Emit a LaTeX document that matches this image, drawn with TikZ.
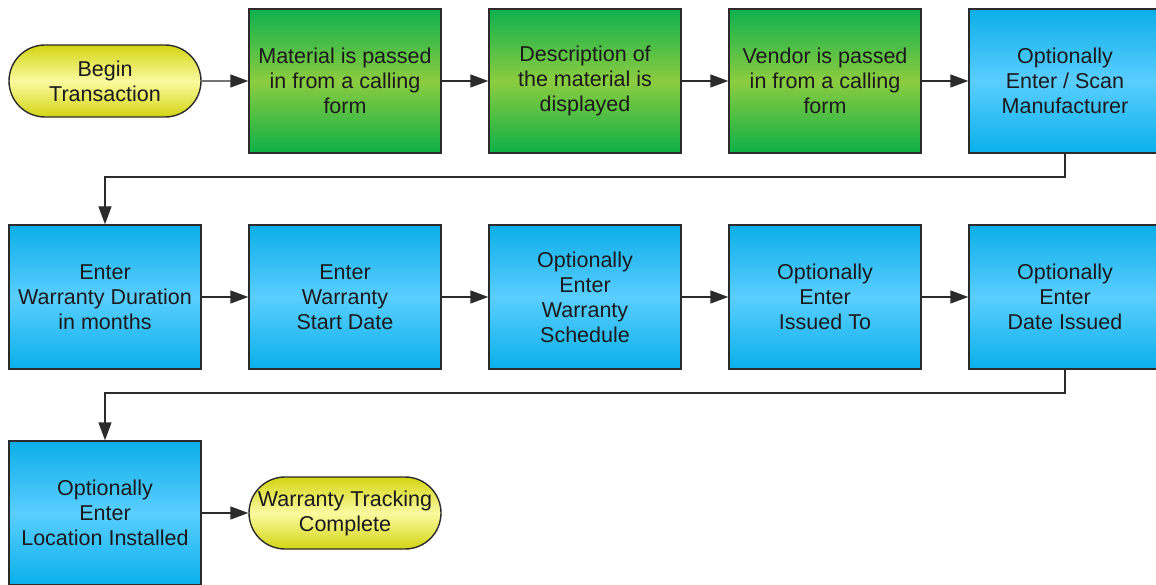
\documentclass[tikz,border=0pt]{standalone}
\usepackage{fontspec}
\setmainfont{Liberation Sans}
\usetikzlibrary{arrows.meta,shapes.misc}
\definecolor{edge}{HTML}{2B2B2B}
\definecolor{txt}{HTML}{1A1A1A}
\tikzset{
  base/.style={draw=edge, line width=1.4pt, text=txt, align=center, font=\fontsize{21.5}{25}\selectfont, inner sep=0pt},
  gbox/.style={base, rectangle, minimum width=192pt, minimum height=144pt, top color={rgb,255:red,14;green,176;blue,78}, bottom color={rgb,255:red,14;green,176;blue,72}, middle color={rgb,255:red,140;green,204;blue,64}},
  bbox/.style={base, rectangle, minimum width=192pt, minimum height=144pt, top color={rgb,255:red,12;green,174;blue,232}, bottom color={rgb,255:red,10;green,176;blue,234}, middle color={rgb,255:red,90;green,206;blue,255}},
  term/.style={base, rounded rectangle, minimum width=192pt, minimum height=72pt, top color={rgb,255:red,212;green,212;blue,20}, bottom color={rgb,255:red,212;green,212;blue,20}, middle color={rgb,255:red,250;green,250;blue,160}},
  conn/.style={draw=edge, line width=1.4pt, -{Triangle[length=18pt,width=13pt]}},
}
\begin{document}
\begin{tikzpicture}[x=1pt,y=-1pt]
\useasboundingbox (0,0) rectangle (1156,585);
% row 1
\node[term] (begin) at (105,81) {Begin\\Transaction};
\node[gbox] (mat) at (345,81) {Material is passed\\in from a calling\\form};
\node[gbox] (desc) at (585,81) {Description of\\the material is\\displayed};
\node[gbox] (vend) at (825,81) {Vendor is passed\\in from a calling\\form};
\node[bbox] (manu) at (1065,81) {Optionally\\Enter / Scan\\Manufacturer};
% row 2
\node[bbox] (dur) at (105,297) {Enter\\Warranty Duration\\in months};
\node[bbox] (start) at (345,297) {Enter\\Warranty\\Start Date};
\node[bbox] (sched) at (585,297) {Optionally\\Enter\\Warranty\\Schedule};
\node[bbox] (issto) at (825,297) {Optionally\\Enter\\Issued To};
\node[bbox] (dateis) at (1065,297) {Optionally\\Enter\\Date Issued};
% row 3
\node[bbox] (loc) at (105,513) {Optionally\\Enter\\Location Installed};
\node[term] (done) at (345,513) {Warranty Tracking\\Complete};
% connectors
\draw[conn] (begin) -- (mat);
\draw[conn] (mat) -- (desc);
\draw[conn] (desc) -- (vend);
\draw[conn] (vend) -- (manu);
\coordinate (c1) at (1065,177);
\coordinate (c2) at (105,177);
\draw[conn] (manu.south) -- (c1) -- (c2) -- (dur.north);
\draw[conn] (dur) -- (start);
\draw[conn] (start) -- (sched);
\draw[conn] (sched) -- (issto);
\draw[conn] (issto) -- (dateis);
\coordinate (c3) at (1065,393);
\coordinate (c4) at (105,393);
\draw[conn] (dateis.south) -- (c3) -- (c4) -- (loc.north);
\draw[conn] (loc) -- (done);
\end{tikzpicture}
\end{document}
